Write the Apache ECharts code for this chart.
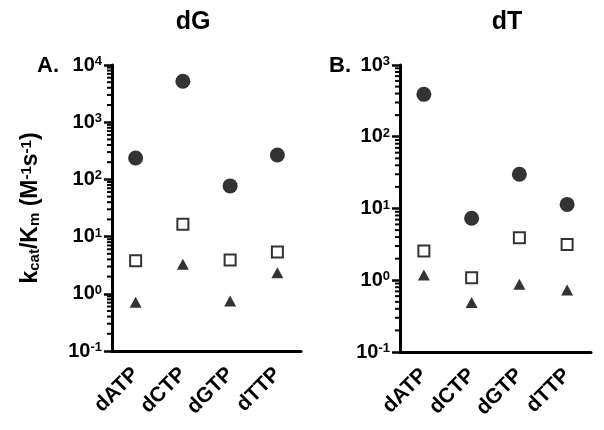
<!DOCTYPE html>
<html><head><meta charset="utf-8">
<script src="https://cdn.jsdelivr.net/npm/echarts@6/dist/echarts.min.js"></script>
<style>html,body{margin:0;padding:0;background:#fff}#c{width:604px;height:430px}</style>
</head><body><div id="c"></div>
<script>
const categories = ['dATP', 'dCTP', 'dGTP', 'dTTP'];
// Panel A (dG)
const dG_circle = [237, 5200, 77, 267];
const dG_square = [3.8, 16.4, 3.9, 5.4];
const dG_triangle = [0.71, 3.27, 0.75, 2.34];
// Panel B (dT)
const dT_circle = [390, 7.3, 30, 11.4];
const dT_square = [2.55, 1.08, 3.9, 3.16];
const dT_triangle = [1.18, 0.49, 0.88, 0.73];
// axis ranges
const yRangeA = [0.1, 10000];
const yRangeB = [0.1, 1000];
const minorMultipliers = [2, 3, 4, 5, 6, 7, 8, 9];
const panelTitles = ['dG', 'dT'];
const panelLetters = ['A.', 'B.'];

const FONT = 'Liberation Sans, Arial, sans-serif';

function minorTicks(range) {
  const out = [];
  const e0 = Math.round(Math.log10(range[0]));
  const e1 = Math.round(Math.log10(range[1]));
  for (let e = e0; e < e1; e++) {
    minorMultipliers.forEach(m => out.push([0, m * Math.pow(10, e)]));
  }
  return out;
}

function sciLabel(v) {
  const e = Math.round(Math.log10(v));
  return '{b|10}{s|' + e + '}';
}

const labelRich = {
  b: { fontSize: 20, fontWeight: 'bold', fontFamily: FONT, color: '#000' },
  s: { fontSize: 13, fontWeight: 'bold', fontFamily: FONT, color: '#000', verticalAlign: 'top' }
};

function xAxisOpt(gi) {
  return {
    type: 'category', gridIndex: gi, data: categories,
    axisLine: { lineStyle: { color: '#000', width: 3 } },
    axisTick: { alignWithLabel: true, length: 8, lineStyle: { width: 2, color: '#000' } },
    axisLabel: { rotate: 45, interval: 0, margin: 20, fontSize: 21, fontWeight: 'bold', fontFamily: FONT, color: '#000' }
  };
}

function yAxisOpt(gi, range, withName) {
  const o = {
    type: 'log', gridIndex: gi, logBase: 10, min: range[0], max: range[1],
    axisLine: { show: true, lineStyle: { color: '#000', width: 3 } },
    axisTick: { show: true, length: 8, lineStyle: { width: 2.5, color: '#000' } },
    splitLine: { show: false },
    axisLabel: { margin: 10, formatter: sciLabel, rich: labelRich, color: '#000' }
  };
  if (withName) {
    o.name = '{n|k}{sb|cat}{n|/K}{sb|m}{n| (M}{sp|-1}{n|s}{sp|-1}{n|)}';
    o.nameLocation = 'middle';
    o.nameGap = 70;
    o.nameTextStyle = {
      fontSize: 23, fontWeight: 'bold', fontFamily: FONT, color: '#000',
      rich: {
        n: { fontSize: 23, fontWeight: 'bold', fontFamily: FONT, color: '#000' },
        sb: { fontSize: 15, fontWeight: 'bold', fontFamily: FONT, color: '#000', verticalAlign: 'bottom' },
        sp: { fontSize: 15, fontWeight: 'bold', fontFamily: FONT, color: '#000', verticalAlign: 'top' }
      }
    };
  }
  return o;
}

function scatterSeries(gi, data, kind) {
  const s = { type: 'scatter', xAxisIndex: gi, yAxisIndex: gi, data: data, z: 5 };
  if (kind === 'circle') {
    s.symbol = 'circle'; s.symbolSize = 15; s.itemStyle = { color: '#000' };
  } else if (kind === 'square') {
    s.symbol = 'rect'; s.symbolSize = 11; s.itemStyle = { color: '#fff', borderColor: '#000', borderWidth: 2 };
  } else {
    s.symbol = 'triangle'; s.symbolSize = [12, 11]; s.itemStyle = { color: '#000' };
  }
  return s;
}

function minorSeries(gi, range) {
  return {
    type: 'custom', xAxisIndex: gi, yAxisIndex: gi, data: minorTicks(range), clip: false, silent: true, z: 4,
    renderItem: function (params, api) {
      const p = api.coord([0, api.value(1)]);
      const x0 = params.coordSys.x;
      return { type: 'line', shape: { x1: x0 - 5, y1: p[1], x2: x0, y2: p[1] }, style: { stroke: '#000', lineWidth: 2 } };
    }
  };
}

const chart = echarts.init(document.getElementById('c'));
chart.setOption({
  backgroundColor: '#fff',
  animation: false,
  grid: [
    { left: 112, top: 65, width: 189, height: 286 },
    { left: 400, top: 65, width: 191, height: 287 }
  ],
  xAxis: [xAxisOpt(0), xAxisOpt(1)],
  yAxis: [yAxisOpt(0, yRangeA, true), yAxisOpt(1, yRangeB, false)],
  graphic: [
    { type: 'text', x: 193, y: 22, style: { text: panelTitles[0], font: 'bold 25px ' + FONT, fill: '#000', align: 'center', verticalAlign: 'middle' } },
    { type: 'text', x: 507, y: 22, style: { text: panelTitles[1], font: 'bold 25px ' + FONT, fill: '#000', align: 'center', verticalAlign: 'middle' } },
    { type: 'text', x: 48, y: 66, style: { text: panelLetters[0], font: 'bold 22px ' + FONT, fill: '#000', align: 'center', verticalAlign: 'middle' } },
    { type: 'text', x: 340, y: 66, style: { text: panelLetters[1], font: 'bold 22px ' + FONT, fill: '#000', align: 'center', verticalAlign: 'middle' } }
  ],
  series: [
    minorSeries(0, yRangeA),
    scatterSeries(0, dG_triangle, 'triangle'),
    scatterSeries(0, dG_square, 'square'),
    scatterSeries(0, dG_circle, 'circle'),
    minorSeries(1, yRangeB),
    scatterSeries(1, dT_triangle, 'triangle'),
    scatterSeries(1, dT_square, 'square'),
    scatterSeries(1, dT_circle, 'circle')
  ]
});
</script>
</body></html>
